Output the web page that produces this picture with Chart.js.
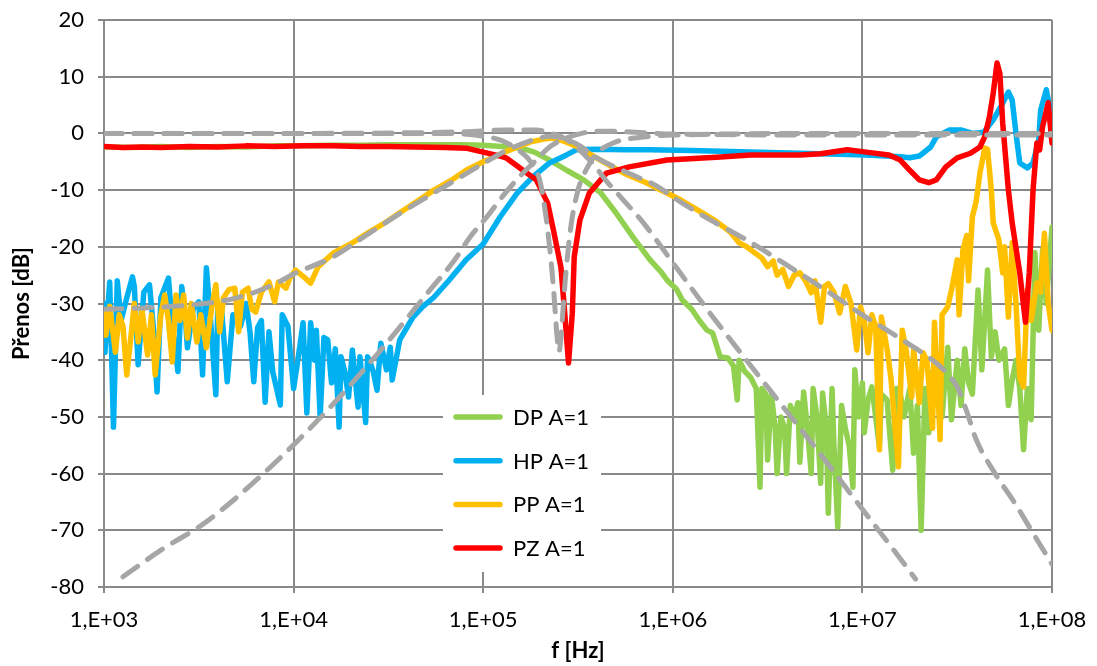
<!DOCTYPE html>
<html>
<head>
<meta charset="utf-8">
<script src="https://cdn.jsdelivr.net/npm/chart.js@4.4.1/dist/chart.umd.min.js"></script>
<style>
  html, body { margin: 0; padding: 0; background: #fff; }
  #wrap { position: relative; width: 1097px; height: 666px; }
</style>
</head>
<body>
<div id="wrap"><canvas id="chart" width="1097" height="666"></canvas></div>
<script>
// ============================================================
//  Přenos filtrů — měřené vs. teoretické (log f)
// ============================================================

// x values are log10(f [Hz]), y values are dB
const xDecades    = [1e3, 1e4, 1e5, 1e6, 1e7, 1e8];
const xTickLabels = ["1,E+03", "1,E+04", "1,E+05", "1,E+06", "1,E+07", "1,E+08"];
const seriesNames = ["DP A=1", "HP A=1", "PP A=1", "PZ A=1"];

const dpMeas = [
  [3.00,-2.4],[3.15,-2.5],[3.3,-2.3],[3.45,-2.5],[3.6,-2.3],[3.75,-2.4],[3.9,-2.2],[4.05,-2.2],[4.2,-2.1],
  [4.35,-2.1],[4.5,-2.0],[4.65,-2.0],[4.8,-2.0],[4.9,-2.0],[5.0,-2.1],[5.1,-2.3],[5.2,-2.6],[5.27,-3.3],
  [5.35,-4.7],[5.44,-6.5],[5.53,-8.2],[5.62,-10.5],[5.7,-14],[5.79,-18.3],[5.88,-22.3],[5.94,-24.5],
  [5.97,-25.9],[6.02,-27.5],[6.05,-29.4],[6.1,-31],[6.14,-33],[6.18,-34.7],[6.21,-35.2],[6.25,-39.4],
  [6.29,-39.6],[6.32,-41],[6.34,-47],[6.35,-40],[6.38,-42],[6.41,-43],[6.44,-45],[6.46,-62.4],[6.47,-45],
  [6.49,-46],[6.5,-57.6],[6.52,-46],[6.54,-52],[6.55,-60],[6.57,-50],[6.59,-52],[6.6,-60],[6.62,-48],
  [6.64,-50],[6.66,-47.5],[6.67,-58],[6.69,-45.6],[6.71,-52],[6.73,-60],[6.74,-45],[6.76,-50],[6.78,-61.7],
  [6.79,-45.8],[6.81,-52],[6.82,-67],[6.84,-45],[6.85,-55],[6.87,-69.4],[6.89,-48],[6.91,-52],[6.93,-55],
  [6.95,-62.4],[6.96,-41.7],[6.98,-50],[7.0,-44],[7.01,-52.8],[7.03,-47],[7.05,-44.7],[7.07,-50],[7.09,-55.3],
  [7.1,-46],[7.13,-47],[7.16,-59.4],[7.18,-45],[7.2,-46],[7.22,-50],[7.25,-45],[7.27,-56.4],[7.29,-48],
  [7.31,-70],[7.33,-45],[7.35,-52.8],[7.37,-42],[7.4,-47],[7.42,-50],[7.45,-37.7],[7.47,-50.5],[7.5,-40],
  [7.52,-48],[7.54,-38],[7.56,-44],[7.58,-46],[7.61,-27.6],[7.63,-41.7],[7.66,-24.1],[7.68,-39.4],[7.7,-35],
  [7.72,-40],[7.75,-38],[7.77,-48],[7.79,-43.5],[7.81,-40],[7.83,-45],[7.85,-55.8],[7.87,-45],[7.89,-50.5],
  [7.91,-21],[7.93,-34.7],[7.95,-20.6],[7.97,-30],[8.0,-16.5]
];

const hpMeas = [
  [3.0,-30],[3.005,-38.6],[3.03,-26.2],[3.05,-51.8],[3.07,-26],[3.09,-33],[3.12,-29],[3.15,-25.3],[3.16,-27],
  [3.18,-40.8],[3.21,-28],[3.24,-26.7],[3.26,-34],[3.28,-45.6],[3.30,-29],[3.34,-25.5],[3.36,-34],[3.39,-42],
  [3.41,-27],[3.43,-33],[3.44,-37.8],[3.47,-31],[3.50,-29.7],[3.52,-42.6],[3.54,-23.7],[3.56,-32],[3.59,-46.1],
  [3.60,-30.3],[3.62,-31],[3.65,-43.8],[3.68,-32],[3.70,-33],[3.72,-34],[3.75,-30],[3.77,-35],[3.79,-43.8],
  [3.81,-34.3],[3.83,-33],[3.85,-47.4],[3.87,-35],[3.89,-42],[3.93,-47.9],[3.94,-32],[3.97,-34],[4.00,-45],
  [4.03,-38.2],[4.05,-33.4],[4.07,-49.3],[4.09,-33.4],[4.11,-40],[4.12,-34.7],[4.14,-50],[4.16,-36],[4.18,-36.4],
  [4.20,-44],[4.22,-38],[4.24,-51.8],[4.25,-39.4],[4.27,-42],[4.29,-46.5],[4.31,-38.2],[4.34,-48.3],[4.35,-39.4],
  [4.38,-51],[4.39,-39.4],[4.40,-40],[4.42,-42],[4.44,-45.3],[4.46,-37],[4.49,-41.7],[4.51,-37.7],[4.52,-43.5],
  [4.56,-36.4],[4.60,-34.1],[4.63,-32.4],[4.68,-30.6],[4.74,-28.9],[4.82,-25.9],[4.91,-22.3],[5.0,-19.5],
  [5.09,-14.7],[5.18,-10.5],[5.26,-7.7],[5.35,-5.2],[5.44,-3.8],[5.49,-2.9],[5.6,-2.8],[5.75,-2.9],[5.88,-2.9],
  [6.1,-3.0],[6.41,-3.3],[6.67,-3.5],[7.02,-3.8],[7.2,-4.1],[7.25,-4.3],[7.3,-4.0],[7.36,-2.4],[7.39,-0.6],
  [7.46,0.6],[7.52,0.6],[7.58,0],[7.64,0.2],[7.69,2.4],[7.73,4.7],[7.77,7.3],[7.79,5.9],[7.81,0],[7.83,-5.2],
  [7.87,-6.1],[7.9,-5.2],[7.93,-1.2],[7.94,4.1],[7.97,7.7],[8.0,2.4]
];

const ppMeas = [
  [3.0,-31.5],[3.01,-35.6],[3.03,-30.5],[3.06,-38.6],[3.08,-32],[3.10,-34],[3.12,-42.6],[3.15,-33.3],[3.16,-30],
  [3.18,-36.8],[3.20,-31],[3.23,-39.1],[3.25,-32],[3.27,-42.6],[3.30,-32],[3.32,-28.5],[3.34,-33],[3.36,-40.3],
  [3.38,-28.5],[3.40,-33],[3.42,-28.5],[3.44,-36.1],[3.46,-30],[3.49,-36.8],[3.51,-32],[3.54,-37.8],[3.57,-30.3],
  [3.59,-26.7],[3.61,-35],[3.63,-29],[3.66,-27.5],[3.69,-27.3],[3.71,-35],[3.73,-28],[3.76,-27.3],[3.78,-31],
  [3.80,-31.5],[3.83,-28],[3.87,-26.2],[3.90,-29.7],[3.92,-26.2],[3.96,-27.3],[3.98,-25.5],[4.01,-24.1],
  [4.05,-25.2],[4.09,-26.4],[4.13,-23.5],[4.21,-21.1],[4.30,-19.5],[4.39,-17.6],[4.48,-15.8],[4.56,-14],
  [4.65,-12],[4.74,-10],[4.83,-8.3],[4.91,-6.5],[5.0,-5],[5.1,-3.5],[5.18,-2.4],[5.25,-1.5],[5.32,-1.0],
  [5.36,-0.8],[5.42,-1.3],[5.5,-2.4],[5.59,-4.2],[5.68,-5.9],[5.76,-7.3],[5.86,-8.7],[5.95,-10.2],[6.04,-11.7],
  [6.13,-13.5],[6.22,-15.3],[6.3,-17.3],[6.35,-19.3],[6.39,-20],[6.43,-21],[6.47,-22],[6.5,-23.5],[6.53,-22.5],
  [6.55,-25],[6.58,-24],[6.61,-27],[6.64,-25],[6.67,-24.6],[6.70,-26],[6.73,-28.1],[6.75,-26],[6.78,-33.3],
  [6.80,-27],[6.82,-26.5],[6.85,-28],[6.88,-31.7],[6.91,-27],[6.94,-30],[6.97,-38.2],[6.99,-30.6],[7.01,-33],
  [7.03,-38.7],[7.05,-32],[7.07,-34],[7.09,-55.8],[7.10,-32.4],[7.13,-38],[7.15,-43],[7.19,-58.8],[7.21,-34.7],
  [7.23,-38],[7.26,-46.5],[7.27,-38],[7.30,-47.5],[7.32,-38.7],[7.34,-40],[7.37,-52],[7.38,-33.3],[7.41,-54],
  [7.42,-32],[7.45,-30.6],[7.47,-27.6],[7.50,-22.3],[7.51,-32],[7.53,-20.6],[7.55,-18],[7.56,-26],[7.58,-14.7],
  [7.60,-12],[7.62,-7],[7.645,-2.6],[7.66,-2.8],[7.68,-10],[7.69,-15.8],[7.72,-18.8],[7.74,-24.6],[7.75,-20],
  [7.77,-32.4],[7.79,-19.3],[7.81,-30],[7.83,-43],[7.85,-44.7],[7.87,-27.6],[7.89,-33],[7.92,-26.4],[7.94,-28],
  [7.96,-17.6],[7.98,-30],[8.0,-34.7]
];

const pzMeas = [
  [3.0,-2.3],[3.1,-2.5],[3.2,-2.4],[3.3,-2.5],[3.45,-2.3],[3.6,-2.4],[3.75,-2.2],[3.9,-2.3],[4.05,-2.2],
  [4.2,-2.2],[4.35,-2.3],[4.5,-2.3],[4.65,-2.4],[4.8,-2.5],[4.91,-2.6],[5.0,-3.3],[5.09,-4.0],[5.12,-4.3],
  [5.21,-6.5],[5.28,-8.2],[5.34,-12.3],[5.37,-17],[5.41,-23.6],[5.43,-31.7],[5.45,-40.5],[5.47,-31.7],
  [5.48,-21.8],[5.51,-15.3],[5.56,-10.5],[5.65,-7],[5.77,-5.9],[5.97,-4.7],[6.23,-4.2],[6.41,-3.8],
  [6.67,-3.8],[6.78,-3.6],[6.92,-2.9],[7.02,-3.3],[7.14,-3.8],[7.2,-4.7],[7.25,-6.5],[7.3,-8.2],[7.35,-8.7],
  [7.39,-8.2],[7.44,-5.9],[7.5,-4.3],[7.57,-3.5],[7.62,-2.4],[7.645,-0.6],[7.67,2.9],[7.69,7.1],[7.71,12.4],
  [7.725,10.6],[7.74,1.8],[7.77,-10],[7.79,-15.8],[7.83,-24.6],[7.86,-33.3],[7.88,-24.6],[7.9,-10],
  [7.92,-1.7],[7.935,-2.9],[7.95,1.1],[7.98,5.4],[8.0,-1.7]
];

// theoretical curves (grey dashed)
const dpTheory = [
  [3.0,0],[4.0,0],[4.6,0.1],[4.9,0.3],[5.13,0.6],[5.28,0.6],[5.36,0],[5.43,-0.9],[5.5,-2.7],[5.58,-5.4],
  [5.65,-8.4],[5.73,-11.4],[5.85,-16],[6.0,-22.8],[6.18,-31],[6.4,-40.5],[6.6,-49],[6.8,-57.5],[7.0,-66.3],
  [7.2,-75],[7.28,-78.6]
];
const hpTheory = [
  [3.1,-78.2],[3.3,-73.5],[3.54,-68.5],[3.86,-59.4],[4.17,-49.1],[4.45,-38.6],[4.72,-27.6],[4.85,-22.3],
  [4.93,-18.3],[5.02,-14.7],[5.1,-11.2],[5.19,-7.7],[5.28,-4.7],[5.35,-2.4],[5.44,-0.8],[5.53,0.1],[5.65,0.4],
  [5.8,0.2],[6.0,-0.1],[7.0,-0.3],[8.0,-0.3]
];
const ppTheory = [
  [3.0,-31],[3.2,-30.8],[3.5,-30.1],[3.7,-29],[3.9,-26.6],[4.0,-24.8],[4.2,-21.9],[4.4,-17.6],[4.6,-13.3],
  [4.8,-9.3],[5.0,-5.3],[5.1,-3.4],[5.2,-1.9],[5.3,-0.8],[5.35,-0.5],[5.4,-0.7],[5.5,-2],[5.6,-4.3],[5.8,-7.5],
  [5.9,-9],[6.05,-12.3],[6.2,-15.3],[6.4,-19],[6.6,-23.2],[6.8,-27.5],[7.0,-32],[7.2,-36.2],[7.4,-40.8],
  [7.45,-42.5],[7.5,-44.7],[7.55,-49],[7.6,-54],[7.7,-60],[7.8,-65],[7.9,-70.5],[8.0,-76]
];
const pzTheory = [
  [3.0,0],[4.8,0],[5.0,-0.5],[5.1,-1.3],[5.2,-3.3],[5.25,-5],[5.3,-8.5],[5.34,-17],[5.37,-27],[5.39,-36],
  [5.40,-38.5],[5.41,-36],[5.43,-27],[5.46,-17],[5.5,-10],[5.55,-6],[5.6,-3.5],[5.7,-1.5],[5.8,-0.8],
  [6.0,-0.3],[7.0,0],[8.0,0]
];

const COLORS = { dp: "#92D050", hp: "#00B0F0", pp: "#FFC000", pz: "#FF0000", theory: "#A6A6A6", grid: "#898989" };
const FONT = "Lato, 'Open Sans', sans-serif";

const toPts = arr => arr.map(([e, db]) => ({ x: Math.pow(10, e), y: db }));

function measured(label, data, color, order) {
  return {
    label, data: toPts(data), borderColor: color, backgroundColor: color,
    borderWidth: 5.5, pointRadius: 0, tension: 0, order,
    borderJoinStyle: "round", borderCapStyle: "round", showInLegend: true
  };
}

function theory(data) {
  return {
    label: "", data: toPts(data), borderColor: COLORS.theory, borderWidth: 5,
    borderDash: [18, 12], borderCapStyle: "round", pointRadius: 0,
    cubicInterpolationMode: "monotone", order: 0, showInLegend: false
  };
}

// ticks labels must not push the plot area around
function noLabelPadding(s) {
  s.paddingLeft = 0; s.paddingRight = 0; s.paddingTop = 0; s.paddingBottom = 0;
}

// legend drawn inside the plot, like the original
const insideLegend = {
  id: "insideLegend",
  afterDatasetsDraw(chart) {
    const ctx = chart.ctx;
    const items = chart.data.datasets.filter(d => d.showInLegend);
    ctx.save();
    ctx.fillStyle = "#fff";
    ctx.fillRect(443, 395, 158, 177);
    ctx.font = "22px " + FONT;
    ctx.textBaseline = "middle";
    items.forEach((d, i) => {
      const y = 417 + i * 43.7;
      ctx.strokeStyle = d.borderColor;
      ctx.lineWidth = 5.5;
      ctx.lineCap = "round";
      ctx.beginPath();
      ctx.moveTo(456, y);
      ctx.lineTo(500, y);
      ctx.stroke();
      ctx.fillStyle = "#000";
      ctx.fillText(d.label, 513, y + 1);
    });
    ctx.restore();
  }
};

new Chart(document.getElementById("chart").getContext("2d"), {
  type: "line",
  data: {
    datasets: [
      measured(seriesNames[0], dpMeas, COLORS.dp, 4),
      measured(seriesNames[1], hpMeas, COLORS.hp, 3),
      measured(seriesNames[2], ppMeas, COLORS.pp, 2),
      measured(seriesNames[3], pzMeas, COLORS.pz, 1),
      theory(dpTheory),
      theory(hpTheory),
      theory(ppTheory),
      theory(pzTheory)
    ]
  },
  options: {
    responsive: false,
    animation: false,
    layout: { padding: { left: 0, top: 20, right: 45, bottom: 0 } },
    plugins: { legend: { display: false }, tooltip: { enabled: false } },
    scales: {
      x: {
        type: "logarithmic", min: 1e3, max: 1e8,
        afterBuildTicks: s => { s.ticks = xDecades.map(v => ({ value: v })); },
        afterFit: s => { s.height = 79; noLabelPadding(s); },
        ticks: {
          callback: (v, i) => xTickLabels[i], color: "#000", padding: 14,
          maxRotation: 0, autoSkip: false, font: { family: FONT, size: 22 }
        },
        grid: { color: COLORS.grid, lineWidth: 2, tickLength: 6 },
        border: { color: COLORS.grid, width: 2 },
        title: { display: true, text: "f [Hz]", color: "#000", padding: { top: 0, bottom: 2 },
                 font: { family: FONT, size: 22, weight: "bold" } }
      },
      y: {
        min: -80, max: 20,
        afterFit: s => { s.width = 104; noLabelPadding(s); },
        ticks: { stepSize: 10, color: "#000", padding: 14, font: { family: FONT, size: 22 } },
        grid: { color: COLORS.grid, lineWidth: 2, tickLength: 6 },
        border: { color: COLORS.grid, width: 2 },
        title: { display: true, text: "Přenos [dB]", color: "#000", padding: { top: 9, bottom: 0 },
                 font: { family: FONT, size: 22, weight: "bold" } }
      }
    }
  },
  plugins: [insideLegend]
});
</script>
</body>
</html>
